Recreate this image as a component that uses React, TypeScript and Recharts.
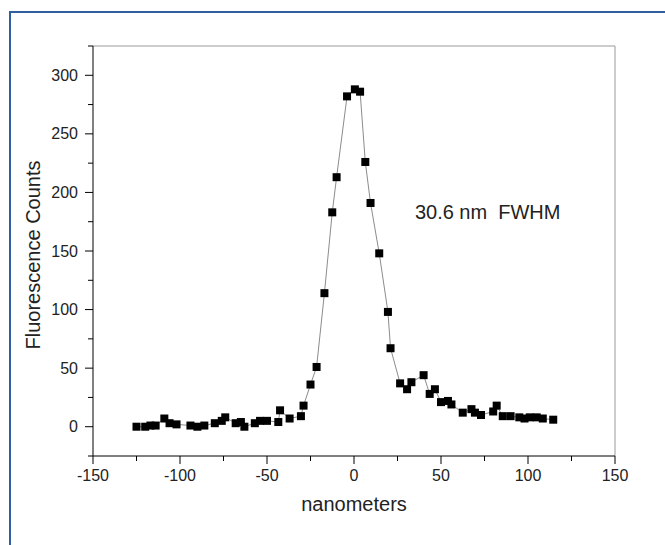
import { LineChart, Line, XAxis, YAxis, ReferenceLine, ReferenceDot, Label } from "recharts";

// position along the scan (nm) and fluorescence counts
const positions = [
  -125, -120, -117, -114, -109, -106, -102, -94, -90, -86, -80, -76, -74, -68, -65, -63,
  -57, -54, -50, -43.5, -42.5, -37, -30.5, -29, -25, -21.5, -17, -12.5, -10, -4, 0.5, 3.5,
  6.5, 9.5, 14.5, 19.5, 21, 26.5, 30.5, 33, 40, 43.5, 46.5, 50, 54, 56, 62.5, 67.5, 69.5,
  73, 80, 82, 85.5, 90, 95, 98, 101, 105, 108.5, 114.5,
];
const counts = [
  0, 0, 1, 1, 7, 3, 2, 1, 0, 1, 3, 5, 8, 3, 4, 0,
  3, 5, 5, 4, 14, 7, 9, 18, 36, 51, 114, 183, 213, 282, 288, 286,
  226, 191, 148, 98, 67, 37, 32, 38, 44, 28, 32, 21, 22, 19, 12, 15, 12,
  10, 13, 18, 9, 9, 8, 7, 8, 8, 7, 6,
];

const xTicks = [-150, -125, -100, -75, -50, -25, 0, 25, 50, 75, 100, 125, 150];
const yTicks = [-25, 0, 25, 50, 75, 100, 125, 150, 175, 200, 225, 250, 275, 300, 325];

const data = positions.map((x, i) => ({ x, y: counts[i] }));

const font = "'Liberation Sans', Arial, sans-serif";

const XTick = (props: any) => {
  const { x, y, payload } = props;
  const major = payload.value % 50 === 0;
  return (
    <g>
      <line x1={x} x2={x} y1={y} y2={y + (major ? 8 : 5)} stroke="#000" />
      {major && (
        <text x={x} y={y + 25} textAnchor="middle" fontSize={16} fontFamily={font} fill="#222">
          {payload.value}
        </text>
      )}
    </g>
  );
};

const YTick = (props: any) => {
  const { x, y, payload } = props;
  const major = payload.value % 50 === 0;
  return (
    <g>
      <line x1={x} x2={x - (major ? 8 : 5)} y1={y} y2={y} stroke="#000" />
      {major && (
        <text x={x - 15} y={y} dy="0.35em" textAnchor="end" fontSize={16} fontFamily={font} fill="#222">
          {payload.value}
        </text>
      )}
    </g>
  );
};

const SquareDot = (props: any) => {
  const { cx, cy, index } = props;
  return <rect key={"d" + index} x={cx - 4} y={cy - 4} width={8} height={8} fill="#000" />;
};

export default function App() {
  return (
    <div
      style={{
        position: "absolute",
        left: 0,
        top: 0,
        width: 665,
        height: 545,
        overflow: "hidden",
        background: "#fff",
      }}
    >
      <div
        style={{
          position: "absolute",
          left: 9,
          top: 11,
          width: 700,
          height: 600,
          borderLeft: "2px solid #2f5f9f",
          borderTop: "2px solid #2f5f9f",
        }}
      />
      <div style={{ position: "absolute", left: 0, top: 0 }}>
        <LineChart width={665} height={545} data={data} margin={{ top: 46, right: 50, bottom: 29, left: 20 }}>
          <XAxis
            dataKey="x"
            type="number"
            domain={[-150, 150]}
            ticks={xTicks}
            interval={0}
            tickSize={0}
            tickMargin={0}
            tickLine={false}
            tick={<XTick />}
            height={60}
            axisLine={{ stroke: "#000" }}
            allowDataOverflow
          >
            <Label
              content={(p: any) => {
                const vb = p.viewBox;
                return (
                  <text x={vb.x + vb.width / 2} y={vb.y + 55} textAnchor="middle" fontSize={20} fontFamily={font} fill="#222">
                    nanometers
                  </text>
                );
              }}
            />
          </XAxis>
          <YAxis
            type="number"
            domain={[-25, 325]}
            ticks={yTicks}
            interval={0}
            tickSize={0}
            tickMargin={0}
            tickLine={false}
            tick={<YTick />}
            width={73}
            axisLine={{ stroke: "#000" }}
            allowDataOverflow
          >
            <Label
              content={(p: any) => {
                const vb = p.viewBox;
                const cx = 33;
                const cy = vb.y + vb.height / 2 + 4;
                return (
                  <text
                    x={cx}
                    y={cy}
                    dy="0.35em"
                    textAnchor="middle"
                    transform={`rotate(-90 ${cx} ${cy})`}
                    fontSize={20}
                    fontFamily={font}
                    fill="#222"
                  >
                    Fluorescence Counts
                  </text>
                );
              }}
            />
          </YAxis>
          <ReferenceLine y={325} stroke="#999" />
          <ReferenceLine x={150} stroke="#999" />
          <ReferenceDot x={35} y={183} r={0} fill="none" stroke="none">
            <Label
              content={(p: any) => {
                const vb = p.viewBox;
                return (
                  <text
                    x={vb.x}
                    y={vb.y}
                    dy="0.35em"
                    fontSize={20}
                    fontFamily={font}
                    fill="#222"
                    style={{ whiteSpace: "pre" }}
                  >
                    {"30.6 nm  FWHM"}
                  </text>
                );
              }}
            />
          </ReferenceDot>
          <Line
            type="linear"
            dataKey="y"
            stroke="#8c8c8c"
            strokeWidth={1}
            dot={SquareDot}
            activeDot={false}
            isAnimationActive={false}
          />
        </LineChart>
      </div>
    </div>
  );
}
